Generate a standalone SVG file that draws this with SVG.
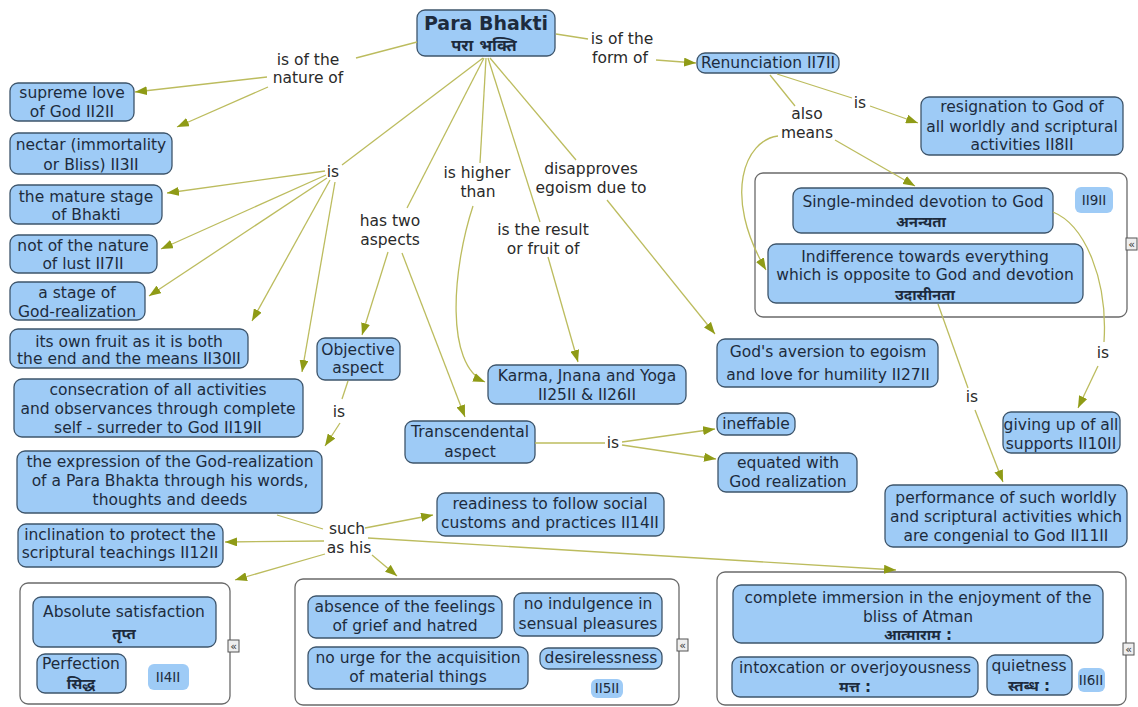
<svg xmlns="http://www.w3.org/2000/svg" width="1138" height="707" viewBox="0 0 1138 707">
<style>
text{font-family:"DejaVu Sans",Verdana,"Noto Sans",sans-serif;font-size:15.5px;fill:#1d2b3d;text-anchor:middle}
.n rect{fill:#9ecbf6;stroke:#3e556b;stroke-width:1.3}
.t rect{fill:#9ecbf6;stroke:none}
.c rect.box{fill:#fff;stroke:#6a6a6a;stroke-width:1.3}
.ic rect{fill:#eee;stroke:#555;stroke-width:1}
.ic text{font-size:11px;fill:#333}
.dv{font-weight:bold;font-size:15px}
.rf{font-size:13.5px}
.lb text{fill:#2a2a2a}
#conn path{fill:none;stroke:#bcbc5e;stroke-width:1.3}
#conn path.a{marker-end:url(#ah)}
</style>
<defs>
<marker id="ah" viewBox="0 0 12 9" refX="12" refY="4.5" markerWidth="12" markerHeight="9" markerUnits="userSpaceOnUse" orient="auto"><path d="M0,0 L12,4.5 L0,9 z" fill="#8f9b16"/></marker>
</defs>
<rect width="1138" height="707" fill="#fff"/>
<g id="para-bhakti" class="n"><rect x="417" y="10" width="138" height="46" rx="8"/><text x="486" y="30" style="font-weight:bold;font-size:19px">Para Bhakti</text><text x="484" y="51" class="dv" style="font-size:16.5px">परा भक्ति</text></g>
<g id="lbl-nature" class="lb"><text x="308" y="65">is of the</text><text x="308" y="83">nature of</text></g>
<g id="supreme-love" class="n"><rect x="10" y="83" width="124" height="38" rx="8"/><text x="72" y="98">supreme love</text><text x="72" y="117">of God II2II</text></g>
<g id="nectar" class="n"><rect x="10" y="133" width="162" height="41" rx="8"/><text x="91" y="150">nectar (immortality</text><text x="91" y="170">or Bliss) II3II</text></g>
<g id="lbl-is1" class="lb"><text x="333" y="177">is</text></g>
<g id="mature" class="n"><rect x="10" y="185" width="152" height="39" rx="8"/><text x="86" y="202">the mature stage</text><text x="86" y="220">of Bhakti</text></g>
<g id="not-lust" class="n"><rect x="10" y="235" width="147" height="38" rx="8"/><text x="83" y="251">not of the nature</text><text x="83" y="269">of lust II7II</text></g>
<g id="stage-god" class="n"><rect x="10" y="282" width="135" height="38" rx="8"/><text x="77" y="298">a stage of</text><text x="77" y="317">God-realization</text></g>
<g id="own-fruit" class="n"><rect x="10" y="329" width="238" height="39" rx="8"/><text x="129" y="347">its own fruit as it is both</text><text x="129" y="364">the end and the means II30II</text></g>
<g id="consecration" class="n"><rect x="14" y="379" width="289" height="58" rx="8"/><text x="158" y="395">consecration of all activities</text><text x="158" y="414">and observances through complete</text><text x="158" y="433">self - surreder to God II19II</text></g>
<g id="expression" class="n"><rect x="17" y="451" width="305" height="62" rx="8"/><text x="170" y="467">the expression of the God-realization</text><text x="170" y="486">of a Para Bhakta through his words,</text><text x="170" y="505">thoughts and deeds</text></g>
<g id="inclination" class="n"><rect x="18" y="524" width="205" height="43" rx="8"/><text x="120" y="540">inclination to protect the</text><text x="120" y="558">scriptural teachings II12II</text></g>
<g id="lbl-such" class="lb"><text x="347" y="534">such</text><text x="349" y="553">as his</text></g>
<g id="lbl-is-obj" class="lb"><text x="339" y="417">is</text></g>
<g id="lbl-two" class="lb"><text x="390" y="226">has two</text><text x="390" y="245">aspects</text></g>
<g id="lbl-higher" class="lb"><text x="477" y="178">is higher</text><text x="478" y="197">than</text></g>
<g id="lbl-result" class="lb"><text x="543" y="235">is the result</text><text x="543" y="254">or fruit of</text></g>
<g id="lbl-disapproves" class="lb"><text x="591" y="174">disapproves</text><text x="591" y="193">egoism due to</text></g>
<g id="lbl-form" class="lb"><text x="622" y="44">is of the</text><text x="620" y="63">form of</text></g>
<g id="objective" class="n"><rect x="317" y="338" width="83" height="42" rx="8"/><text x="358" y="355">Objective</text><text x="358" y="373">aspect</text></g>
<g id="karma" class="n"><rect x="488" y="365" width="198" height="39" rx="8"/><text x="587" y="381">Karma, Jnana and Yoga</text><text x="587" y="400">II25II &amp; II26II</text></g>
<g id="aversion" class="n"><rect x="717" y="339" width="221" height="48" rx="8"/><text x="828" y="357">God's aversion to egoism</text><text x="828" y="380">and love for humility II27II</text></g>
<g id="transcendental" class="n"><rect x="405" y="421" width="130" height="42" rx="8"/><text x="470" y="437">Transcendental</text><text x="470" y="457">aspect</text></g>
<g id="lbl-is-tr" class="lb"><text x="613" y="448">is</text></g>
<g id="ineffable" class="n"><rect x="717" y="413" width="78" height="22" rx="8"/><text x="756" y="429">ineffable</text></g>
<g id="equated" class="n"><rect x="718" y="453" width="139" height="39" rx="8"/><text x="788" y="468">equated with</text><text x="788" y="487">God realization</text></g>
<g id="readiness" class="n"><rect x="437" y="493" width="227" height="43" rx="8"/><text x="550" y="509">readiness to follow social</text><text x="550" y="528">customs and practices II14II</text></g>
<g id="renunciation" class="n"><rect x="697" y="53" width="142" height="20" rx="8"/><text x="768" y="68">Renunciation II7II</text></g>
<g id="lbl-is-ren" class="lb"><text x="860" y="108">is</text></g>
<g id="lbl-also" class="lb"><text x="807" y="119">also</text><text x="807" y="138">means</text></g>
<g id="resignation" class="n"><rect x="921" y="97" width="202" height="58" rx="8"/><text x="1022" y="112">resignation to God of</text><text x="1022" y="132">all worldly and scriptural</text><text x="1022" y="150">activities II8II</text></g>
<g id="group-9" class="c"><rect class="box" x="755" y="173" width="372" height="144" rx="8"/>
<g id="single-minded" class="n"><rect x="793" y="188" width="260" height="45" rx="8"/><text x="923" y="207">Single-minded devotion to God</text><text x="921" y="227" class="dv">अनन्यता</text></g>
<g id="ref-9" class="t"><rect x="1075" y="187" width="38" height="26" rx="6"/><text x="1094" y="205" class="rf">II9II</text></g>
<g id="indifference" class="n"><rect x="768" y="244" width="315" height="59" rx="8"/><text x="925" y="262">Indifference towards everything</text><text x="925" y="280">which is opposite to God and devotion</text><text x="925" y="300" class="dv">उदासीनता</text></g>
<g class="ic"><rect x="1126" y="238" width="11" height="12"/><text x="1131.5" y="248">«</text></g></g>
<g id="lbl-is-give" class="lb"><text x="1103" y="358">is</text></g>
<g id="lbl-is-perf" class="lb"><text x="972" y="402">is</text></g>
<g id="giving-up" class="n"><rect x="1003" y="412" width="117" height="41" rx="8"/><text x="1061" y="430">giving up of all</text><text x="1061" y="449">supports II10II</text></g>
<g id="performance" class="n"><rect x="885" y="485" width="242" height="62" rx="8"/><text x="1006" y="503">performance of such worldly</text><text x="1006" y="522">and scriptural activities which</text><text x="1006" y="541">are congenial to God II11II</text></g>
<g id="group-4" class="c"><rect class="box" x="20" y="583" width="210" height="121" rx="8"/>
<g id="absolute" class="n"><rect x="33" y="597" width="183" height="50" rx="8"/><text x="124" y="617">Absolute satisfaction</text><text x="124" y="639" class="dv">तृप्त</text></g>
<g id="perfection" class="n"><rect x="37" y="654" width="89" height="39" rx="8"/><text x="81" y="669">Perfection</text><text x="81" y="689" class="dv">सिद्ध</text></g>
<g id="ref-4" class="t"><rect x="148" y="664" width="41" height="26" rx="6"/><text x="168" y="682" class="rf">II4II</text></g>
<g class="ic"><rect x="228" y="640" width="11" height="12"/><text x="233.5" y="650">«</text></g></g>
<g id="group-5" class="c"><rect class="box" x="295" y="579" width="384" height="126" rx="8"/>
<g id="absence" class="n"><rect x="308" y="596" width="194" height="42" rx="8"/><text x="405" y="612">absence of the feelings</text><text x="405" y="631">of grief and hatred</text></g>
<g id="indulgence" class="n"><rect x="514" y="593" width="148" height="43" rx="8"/><text x="588" y="609">no indulgence in</text><text x="588" y="629">sensual pleasures</text></g>
<g id="urge" class="n"><rect x="308" y="647" width="220" height="42" rx="8"/><text x="418" y="663">no urge for the acquisition</text><text x="418" y="682">of material things</text></g>
<g id="desirelessness" class="n"><rect x="540" y="648" width="122" height="21" rx="8"/><text x="601" y="663">desirelessness</text></g>
<g id="ref-5" class="t"><rect x="591" y="679" width="32" height="19" rx="6"/><text x="607" y="693" class="rf">II5II</text></g>
<g class="ic"><rect x="677" y="639" width="11" height="12"/><text x="682.5" y="649">«</text></g></g>
<g id="group-6" class="c"><rect class="box" x="717" y="572" width="409" height="133" rx="8"/>
<g id="immersion" class="n"><rect x="733" y="585" width="370" height="58" rx="8"/><text x="918" y="603">complete immersion in the enjoyment of the</text><text x="918" y="622">bliss of Atman</text><text x="918" y="640" class="dv">आत्माराम :</text></g>
<g id="intoxcation" class="n"><rect x="732" y="657" width="246" height="40" rx="8"/><text x="855" y="673">intoxcation or overjoyousness</text><text x="855" y="692" class="dv">मत्त :</text></g>
<g id="quietness" class="n"><rect x="987" y="655" width="85" height="40" rx="8"/><text x="1029" y="671">quietness</text><text x="1029" y="691" class="dv">स्तब्ध :</text></g>
<g id="ref-6" class="t"><rect x="1078" y="668" width="27" height="24" rx="6"/><text x="1091" y="685" class="rf">II6II</text></g>
<g class="ic"><rect x="1123" y="643" width="11" height="12"/><text x="1128.5" y="653">«</text></g></g>
<g id="conn">
<path d="M417,42 L356,58"/>
<path class="a" d="M267,77 L135,92"/>
<path class="a" d="M268,87 L177,127"/>
<path d="M483,58 L342,165"/>
<path class="a" d="M325,171 L167,193"/>
<path class="a" d="M326,175 L161,249"/>
<path class="a" d="M327,178 L149,296"/>
<path class="a" d="M330,180 L252,321"/>
<path class="a" d="M335,182 L302,372"/>
<path d="M484,58 L407,208"/>
<path class="a" d="M388,252 L362,335"/>
<path class="a" d="M402,253 L465,417"/>
<path d="M486,58 L480,163"/>
<path class="a" d="M473,206 C452,270 445,365 485,382"/>
<path d="M488,58 L540,222"/>
<path class="a" d="M548,257 L578,362"/>
<path d="M490,58 L576,160"/>
<path class="a" d="M607,200 L715,334"/>
<path d="M556,34 L588,39"/>
<path class="a" d="M656,60 L696,63"/>
<path d="M777,74 L852,98"/>
<path class="a" d="M870,106 L918,123"/>
<path d="M770,75 L795,106"/>
<path class="a" d="M835,140 L915,186"/>
<path class="a" d="M778,136 C745,140 722,195 766,270"/>
<path d="M1053,212 C1085,225 1108,280 1104,342"/>
<path class="a" d="M1098,366 L1078,408"/>
<path d="M938,304 L968,388"/>
<path class="a" d="M975,410 L1003,482"/>
<path d="M535,443 L605,443"/>
<path class="a" d="M622,442 L715,429"/>
<path class="a" d="M622,445 L716,459"/>
<path d="M348,381 L342,399"/>
<path class="a" d="M340,423 L325,446"/>
<path d="M277,515 L323,529"/>
<path class="a" d="M365,528 L433,515"/>
<path class="a" d="M324,541 L225,542"/>
<path class="a" d="M325,554 L235,580"/>
<path class="a" d="M372,555 L397,576"/>
<path class="a" d="M368,538 L896,570"/>
</g>
</svg>
